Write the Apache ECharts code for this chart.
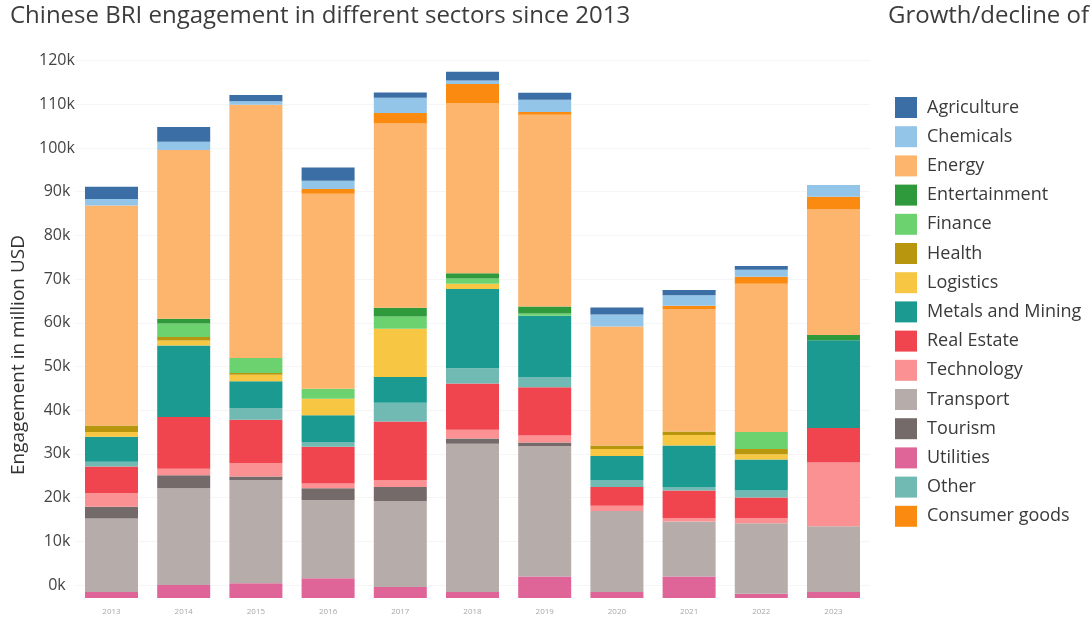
<!DOCTYPE html>
<html>
<head>
<meta charset="utf-8">
<title>Chinese BRI engagement in different sectors since 2013</title>
<script src="https://cdn.jsdelivr.net/npm/echarts@6/dist/echarts.min.js"></script>
<style>
  html, body { margin: 0; padding: 0; background: #ffffff; }
  #chart { width: 1092px; height: 624px; }
</style>
</head>
<body>
<div id="chart"></div>
<script>
// Years on the category axis
const years = ['2013', '2014', '2015', '2016', '2017', '2018', '2019', '2020', '2021', '2022', '2023'];

// Engagement per sector, million USD
const utilities     = [1400, 3000, 3400, 4500, 2500, 1400, 4900, 1400, 4900, 1000, 1400];
const transport     = [16800, 22100, 23600, 17900, 19700, 33900, 29900, 18500, 12600, 16100, 15000];
const tourism       = [2700, 3000, 800, 2700, 3200, 1200, 800, 0, 0, 0, 0];
const technology    = [3100, 1500, 3100, 1100, 1600, 2000, 1600, 1200, 800, 1200, 14600];
const realEstate    = [6100, 11800, 9900, 8400, 13400, 10600, 11000, 4300, 6300, 4700, 7900];
const other         = [1100, 0, 2700, 1100, 4300, 3500, 2400, 1600, 800, 1600, 0];
const metalsMining  = [5700, 16400, 6100, 6100, 5900, 18100, 14000, 5500, 9500, 7100, 20100];
const logistics     = [1100, 1100, 1500, 3800, 11000, 1200, 0, 1600, 2400, 1200, 0];
const health        = [1500, 800, 400, 0, 0, 0, 0, 800, 800, 1200, 0];
const finance       = [0, 3100, 3400, 2300, 2800, 1200, 500, 0, 0, 3900, 0];
const entertainment = [0, 1100, 0, 0, 2000, 1200, 1600, 0, 0, 0, 1200];
const energy        = [50300, 38600, 58000, 44600, 42200, 39000, 43900, 27200, 28000, 33900, 28800];
const consumerGoods = [0, 0, 0, 1100, 2400, 4300, 600, 0, 800, 1600, 2800];
const chemicals     = [1500, 1900, 800, 1900, 3500, 800, 2800, 2800, 2400, 1600, 2700];
const agriculture   = [2800, 3400, 1400, 3000, 1200, 2000, 1600, 1600, 1200, 900, 0];

// Tick labels of the value axis
const yTicks = ['0k', '10k', '20k', '30k', '40k', '50k', '60k', '70k', '80k', '90k', '100k', '110k', '120k'];

// Legend order
const legendOrder = ['Agriculture', 'Chemicals', 'Energy', 'Entertainment', 'Finance', 'Health',
  'Logistics', 'Metals and Mining', 'Real Estate', 'Technology', 'Transport', 'Tourism',
  'Utilities', 'Other', 'Consumer goods'];

// Stack order, bottom to top
const stack = [
  { name: 'Utilities',         data: utilities,     color: '#df6498' },
  { name: 'Transport',         data: transport,     color: '#b6aca9' },
  { name: 'Tourism',           data: tourism,       color: '#756a6a' },
  { name: 'Technology',        data: technology,    color: '#fc9193' },
  { name: 'Real Estate',       data: realEstate,    color: '#f0444f' },
  { name: 'Other',             data: other,         color: '#70bab3' },
  { name: 'Metals and Mining', data: metalsMining,  color: '#1b9a91' },
  { name: 'Logistics',         data: logistics,     color: '#f7c744' },
  { name: 'Health',            data: health,        color: '#b8970f' },
  { name: 'Finance',           data: finance,       color: '#6cd270' },
  { name: 'Entertainment',     data: entertainment, color: '#2f9a3b' },
  { name: 'Energy',            data: energy,        color: '#fdb46c' },
  { name: 'Consumer goods',    data: consumerGoods, color: '#fb8b10' },
  { name: 'Chemicals',         data: chemicals,     color: '#92c5e8' },
  { name: 'Agriculture',       data: agriculture,   color: '#3b6ea5' }
];

const FONT = '"Open Sans", "Noto Sans", sans-serif';
const chart = echarts.init(document.getElementById('chart'), null, { renderer: 'canvas' });

const plotLeft = 75.4, plotRight = 222.4, plotTop = 73.6, plotBottom = 26;
const labelLift = 13; // value labels and grid lines sit a little above the bar baseline

chart.setOption({
  animation: false,
  backgroundColor: '#ffffff',
  graphic: [
    { type: 'text', x: 10, y: 16,
      style: { text: 'Chinese BRI engagement in different sectors since 2013', font: '24px ' + FONT,
               fill: '#3c3c3c', textVerticalAlign: 'middle' } },
    { type: 'text', x: 888, y: 16,
      style: { text: 'Growth/decline of', font: '24px ' + FONT, fill: '#3c3c3c', textVerticalAlign: 'middle' } },
    { type: 'text', x: 19, y: 355, rotation: Math.PI / 2,
      style: { text: 'Engagement in million USD', font: '19px ' + FONT, fill: '#333333',
               textAlign: 'center', textVerticalAlign: 'middle' } }
  ],
  legend: {
    data: legendOrder,
    orient: 'vertical',
    left: 895,
    top: 97,
    padding: 0,
    itemWidth: 22,
    itemHeight: 21,
    itemGap: 8.2,
    icon: 'rect',
    selectedMode: false,
    textStyle: { fontFamily: FONT, fontSize: 18, color: '#3a3a3a', lineHeight: 21, padding: [0, 0, 0, 5] }
  },
  grid: [
    { left: plotLeft, right: plotRight, top: plotTop, bottom: plotBottom },
    { left: plotLeft, right: plotRight, top: plotTop - labelLift, bottom: plotBottom + labelLift }
  ],
  xAxis: [
    {
      type: 'category', gridIndex: 0, data: years,
      axisLine: { show: false }, axisTick: { show: false },
      axisLabel: { fontFamily: FONT, fontSize: 8, color: '#a8a8a8', margin: 10 }
    },
    { type: 'category', gridIndex: 1, data: years, show: false }
  ],
  yAxis: [
    { type: 'value', gridIndex: 0, min: 0, max: 120000, interval: 10000, show: false },
    {
      type: 'value', gridIndex: 1, min: 0, max: 120000, interval: 10000,
      axisLine: { show: false }, axisTick: { show: false },
      splitLine: { show: true, lineStyle: { color: '#f5f5f5', width: 1 } },
      axisLabel: {
        fontFamily: FONT, fontSize: 16, color: '#444444', align: 'center', margin: 18.4,
        formatter: (v) => yTicks[Math.round(v / 10000)]
      }
    }
  ],
  series: stack.map(s => ({
    name: s.name,
    type: 'bar',
    stack: 'total',
    xAxisIndex: 0,
    yAxisIndex: 0,
    barWidth: 53,
    clip: false,
    itemStyle: { color: s.color },
    emphasis: { disabled: true },
    data: s.data
  }))
});
</script>
</body>
</html>
